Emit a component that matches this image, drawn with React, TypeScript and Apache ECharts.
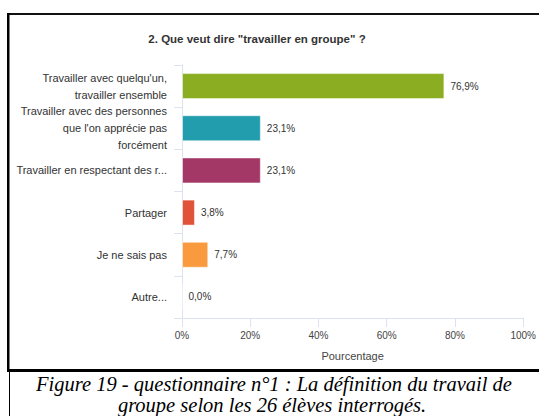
import React, { useEffect, useRef } from "react";
import * as echarts from "echarts";

const title = '2. Que veut dire "travailler en groupe" ?';
const categories = [
  "Travailler avec quelqu'un,\ntravailler ensemble",
  "Travailler avec des personnes\nque l'on apprécie pas\nforcément",
  "Travailler en respectant des r...",
  "Partager",
  "Je ne sais pas",
  "Autre...",
];
const values = [76.9, 23.1, 23.1, 3.8, 7.7, 0.0];
const colors = ["#8aad22", "#229dae", "#a33866", "#e0523a", "#f99a3f", "#cccccc"];
const xTicks = [0, 20, 40, 60, 80, 100];
const xAxisName = "Pourcentage";
const captionLines = [
  "Figure 19 - questionnaire n°1 : La définition du travail de",
  "groupe selon les 26 élèves interrogés.",
];

const FONT = "'Liberation Sans', Arial, sans-serif";

export default function App() {
  const ref = useRef<HTMLDivElement>(null);
  useEffect(() => {
    if (!ref.current) return;
    const chart = echarts.init(ref.current, null, { renderer: "svg" });
    chart.setOption({
      animation: false,
      backgroundColor: "#ffffff",
      title: {
        text: title,
        left: 252,
        top: 28,
        textAlign: "center",
        textStyle: { fontFamily: FONT, fontSize: 11.5, fontWeight: "bold", color: "#333333" },
      },
      grid: { left: 182, right: 11.5, top: 65, bottom: 98, containLabel: false },
      xAxis: {
        type: "value",
        min: xTicks[0],
        max: xTicks[xTicks.length - 1],
        interval: 20,
        axisLine: { show: true, lineStyle: { color: "#dbe3f1", width: 1 } },
        axisTick: { show: true, length: 9, lineStyle: { color: "#dbe3f1" } },
        splitLine: { show: false },
        axisLabel: {
          margin: 12,
          fontFamily: FONT,
          fontSize: 10,
          color: "#444444",
          formatter: (v: number) => v + "%",
        },
        name: xAxisName,
        nameLocation: "middle",
        nameGap: 32,
        nameTextStyle: { fontFamily: FONT, fontSize: 11, color: "#444444" },
      },
      yAxis: {
        type: "category",
        inverse: true,
        data: categories,
        axisLine: { show: true, lineStyle: { color: "#dbe3f1", width: 1 } },
        axisTick: { show: true, length: 8, alignWithLabel: false, lineStyle: { color: "#dbe3f1" } },
        axisLabel: {
          interval: 0,
          hideOverlap: false,
          margin: 15,
          fontFamily: FONT,
          fontSize: 11,
          color: "#333333",
          lineHeight: 17,
        },
      },
      series: [
        {
          type: "bar",
          data: values.map((v, i) => ({
            value: v,
            itemStyle: { color: colors[i], borderColor: "rgba(255,255,255,0.5)", borderWidth: 1 },
          })),
          barWidth: 26,
          label: {
            show: true,
            position: "right",
            distance: 6,
            fontFamily: FONT,
            fontSize: 10,
            color: "#333333",
            formatter: (p: any) => p.value.toFixed(1).replace(".", ",") + "%",
          },
        },
      ],
      graphic: [
        { type: "rect", shape: { x: 7, y: 13, width: 540, height: 2 }, style: { fill: "#111111" } },
        { type: "rect", shape: { x: 7, y: 13, width: 2.5, height: 359 }, style: { fill: "#000000" } },
        { type: "rect", shape: { x: 7, y: 369, width: 540, height: 3 }, style: { fill: "#000000" } },
        { type: "rect", shape: { x: 9, y: 372, width: 1, height: 50 }, style: { fill: "#000000" } },
        {
          type: "text",
          x: 274,
          y: 384,
          style: {
            text: captionLines[0],
            font: "italic 20.5px 'Liberation Serif', 'Times New Roman', serif",
            fill: "#000000",
            align: "center",
            verticalAlign: "middle",
          },
        },
        {
          type: "text",
          x: 272,
          y: 405,
          style: {
            text: captionLines[1],
            font: "italic 20.5px 'Liberation Serif', 'Times New Roman', serif",
            fill: "#000000",
            align: "center",
            verticalAlign: "middle",
          },
        },
      ],
    });
    return () => chart.dispose();
  }, []);
  return (
    <div
      ref={ref}
      style={{ position: "fixed", left: 0, top: 0, width: 539, height: 416 }}
    />
  );
}
